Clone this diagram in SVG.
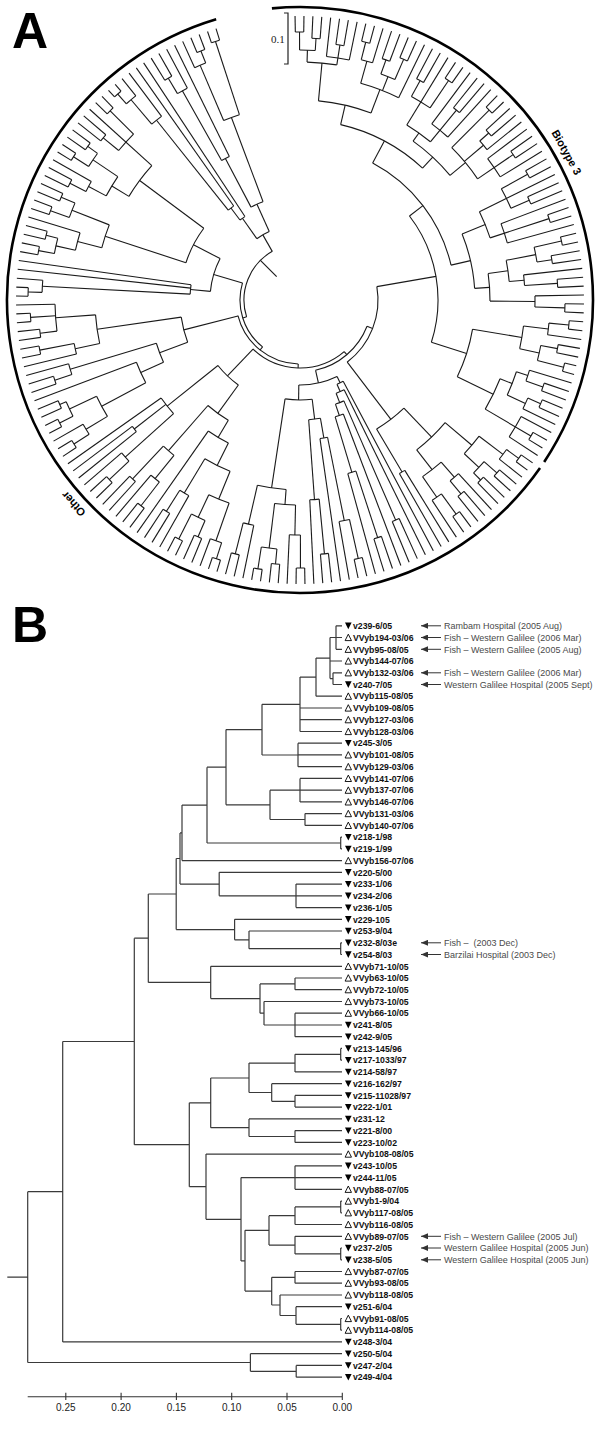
<svg xmlns="http://www.w3.org/2000/svg" xmlns:xlink="http://www.w3.org/1999/xlink" width="600" height="1433" viewBox="0 0 600 1433">
<style>
.ta path,.ta circle{fill:none;stroke:#1a1a1a;stroke-width:1.1}
.big{fill:none;stroke:#000;stroke-width:2.6}
.tb{fill:none;stroke:#3a3a3a;stroke-width:1.2}
.lbl{font-family:"Liberation Sans",Arial,sans-serif;font-size:8.7px;font-weight:bold;fill:#111}
.ann{font-family:"Liberation Sans",Arial,sans-serif;font-size:9px;fill:#4a4a4a}
.ax{font-family:"Liberation Sans",Arial,sans-serif;font-size:10px;fill:#222;text-anchor:middle}
.clade{font-family:"Liberation Sans",Arial,sans-serif;font-size:11px;font-weight:bold;fill:#000;text-anchor:middle}
.pl{font-family:"Liberation Sans",Arial,sans-serif;font-size:50px;font-weight:900;fill:#000}
.arr{stroke:#333;stroke-width:1;fill:none}
</style>
<defs>
<path id="dn" d="M-3.3-3.2H3.3L0 3.4Z" fill="#000"/>
<path id="up" d="M-3.2 3.1H3.2L0-3.3Z" fill="none" stroke="#000" stroke-width="0.9"/>
<marker id="ah" markerUnits="userSpaceOnUse" markerWidth="7" markerHeight="6" refX="7" refY="3" orient="auto"><path d="M0 0L7 3L0 6Z" fill="#333"/></marker>
</defs>
<rect width="600" height="1433" fill="#fff"/>
<text class="pl" x="12" y="48">A</text>
<text class="pl" x="12" y="642">B</text>
<g id="scalebarA">
<path d="M284 13H288V64H284" fill="none" stroke="#222" stroke-width="1.2"/>
<text x="271" y="43" font-family="Liberation Serif,serif" font-size="11" fill="#222">0.1</text>
</g>
<g id="cladeArcs" transform="translate(300,300)">
<circle class="big" r="293" transform="rotate(264.5)" stroke-dasharray="659.7 3000"/>
<circle class="big" r="293" transform="rotate(35)" stroke-dasharray="1116.3 3000"/>
<text class="clade" transform="rotate(61)" y="-301">Biotype 3</text>
<text class="clade" transform="rotate(228)" y="-301">Other</text>
</g>
<g id="treeA" class="ta" transform="translate(300,300)">
<g id="biotype3" transform="rotate(4)">
<circle r="138" transform="rotate(318.5)" stroke-dasharray="133.2 2000"/>
<circle r="155" transform="rotate(293.95)" stroke-dasharray="132.7 2000"/>
<circle r="175" transform="rotate(365.6)" stroke-dasharray="50.1 2000"/>
<circle r="180" transform="rotate(279.05)" stroke-dasharray="93.8 2000"/>
<circle r="175" transform="rotate(333.85)" stroke-dasharray="56 2000"/>
<circle r="200" transform="rotate(271.3)" stroke-dasharray="54.1 2000"/>
<circle r="195" transform="rotate(301.45)" stroke-dasharray="50.5 2000"/>
<circle r="238" transform="rotate(267.7)" stroke-dasharray="29.9 2000"/>
<circle r="225" transform="rotate(281.65)" stroke-dasharray="40.6 2000"/>
<circle r="205" transform="rotate(297.4)" stroke-dasharray="29 2000"/>
<circle r="215" transform="rotate(310.9)" stroke-dasharray="40.5 2000"/>
<circle r="250" transform="rotate(265.9)" stroke-dasharray="15.7 2000"/>
<circle r="268" transform="rotate(265)" stroke-dasharray="8.42 2000"/>
<circle r="262" transform="rotate(268.6)" stroke-dasharray="8.23 2000"/>
<circle r="245" transform="rotate(272.2)" stroke-dasharray="23.1 2000"/>
<circle r="258" transform="rotate(274)" stroke-dasharray="8.1 2000"/>
<circle r="248" transform="rotate(280.3)" stroke-dasharray="11.7 2000"/>
<circle r="266" transform="rotate(279.4)" stroke-dasharray="8.36 2000"/>
<circle r="240" transform="rotate(285.7)" stroke-dasharray="15.1 2000"/>
<circle r="255" transform="rotate(284.8)" stroke-dasharray="8 2000"/>
<circle r="262" transform="rotate(288.4)" stroke-dasharray="8.23 2000"/>
<circle r="232" transform="rotate(294.7)" stroke-dasharray="21.9 2000"/>
<circle r="250" transform="rotate(293.8)" stroke-dasharray="7.85 2000"/>
<circle r="265" transform="rotate(299.2)" stroke-dasharray="8.33 2000"/>
<circle r="220" transform="rotate(302.8)" stroke-dasharray="20.7 2000"/>
<circle r="246" transform="rotate(304.6)" stroke-dasharray="7.73 2000"/>
<circle r="268" transform="rotate(310)" stroke-dasharray="8.42 2000"/>
<circle r="240" transform="rotate(314.5)" stroke-dasharray="11.3 2000"/>
<circle r="252" transform="rotate(313.6)" stroke-dasharray="7.92 2000"/>
<circle r="235" transform="rotate(319)" stroke-dasharray="22.1 2000"/>
<circle r="258" transform="rotate(320.8)" stroke-dasharray="8.1 2000"/>
<circle r="200" transform="rotate(329.8)" stroke-dasharray="28.3 2000"/>
<circle r="230" transform="rotate(327.1)" stroke-dasharray="21.7 2000"/>
<circle r="260" transform="rotate(326.2)" stroke-dasharray="8.17 2000"/>
<circle r="250" transform="rotate(331.6)" stroke-dasharray="7.85 2000"/>
<circle r="215" transform="rotate(335.2)" stroke-dasharray="20.3 2000"/>
<circle r="262" transform="rotate(337)" stroke-dasharray="8.23 2000"/>
<circle r="190" transform="rotate(348)" stroke-dasharray="27.7 2000"/>
<circle r="210" transform="rotate(345.1)" stroke-dasharray="21.4 2000"/>
<circle r="240" transform="rotate(343.3)" stroke-dasharray="15.1 2000"/>
<circle r="268" transform="rotate(342.4)" stroke-dasharray="8.42 2000"/>
<circle r="255" transform="rotate(346)" stroke-dasharray="8 2000"/>
<circle r="225" transform="rotate(349.6)" stroke-dasharray="10.6 2000"/>
<circle r="258" transform="rotate(351.4)" stroke-dasharray="8.1 2000"/>
<circle r="235" transform="rotate(355)" stroke-dasharray="11.1 2000"/>
<circle r="265" transform="rotate(356.8)" stroke-dasharray="8.33 2000"/>
<circle r="225" transform="rotate(362.65)" stroke-dasharray="23 2000"/>
<circle r="250" transform="rotate(361.3)" stroke-dasharray="11.8 2000"/>
<circle r="270" transform="rotate(360.4)" stroke-dasharray="8.48 2000"/>
<circle r="245" transform="rotate(366.7)" stroke-dasharray="15.4 2000"/>
<circle r="262" transform="rotate(365.8)" stroke-dasharray="8.23 2000"/>
<circle r="272" transform="rotate(369.4)" stroke-dasharray="8.55 2000"/>
<circle r="215" transform="rotate(377.5)" stroke-dasharray="33.8 2000"/>
<circle r="228" transform="rotate(374.35)" stroke-dasharray="25.1 2000"/>
<circle r="240" transform="rotate(373)" stroke-dasharray="11.3 2000"/>
<circle r="258" transform="rotate(374.8)" stroke-dasharray="8.1 2000"/>
<circle r="248" transform="rotate(379.3)" stroke-dasharray="11.7 2000"/>
<circle r="262" transform="rotate(378.4)" stroke-dasharray="8.23 2000"/>
<circle r="250" transform="rotate(383.8)" stroke-dasharray="23.6 2000"/>
<circle r="268" transform="rotate(385.6)" stroke-dasharray="8.42 2000"/>
<path transform="rotate(436.15)" d="M0-78V-138"/>
<path transform="rotate(408.5)" d="M0-138V-155"/>
<path transform="rotate(463.8)" d="M0-138V-175"/>
<path transform="rotate(383.95)" d="M0-155V-180"/>
<path transform="rotate(433)" d="M0-155V-175"/>
<path transform="rotate(369.05)" d="M0-180V-200"/>
<path transform="rotate(398.9)" d="M0-180V-195"/>
<path transform="rotate(361.3)" d="M0-200V-238"/>
<path transform="rotate(376.8)" d="M0-200V-225"/>
<path transform="rotate(391.45)" d="M0-195V-205"/>
<path transform="rotate(406.3)" d="M0-195V-215"/>
<path transform="rotate(357.7)" d="M0-238V-250"/>
<path transform="rotate(355.9)" d="M0-250V-268"/>
<path transform="rotate(359.5)" d="M0-250V-262"/>
<path transform="rotate(364.9)" d="M0-238V-258"/>
<path transform="rotate(371.65)" d="M0-225V-248"/>
<path transform="rotate(370.3)" d="M0-248V-266"/>
<path transform="rotate(377.5)" d="M0-225V-240"/>
<path transform="rotate(375.7)" d="M0-240V-255"/>
<path transform="rotate(379.3)" d="M0-240V-262"/>
<path transform="rotate(387.4)" d="M0-205V-284"/>
<path transform="rotate(384.7)" d="M0-232V-250"/>
<path transform="rotate(390.1)" d="M0-232V-265"/>
<path transform="rotate(395.5)" d="M0-205V-246"/>
<path transform="rotate(400.9)" d="M0-215V-268"/>
<path transform="rotate(405.85)" d="M0-215V-240"/>
<path transform="rotate(404.5)" d="M0-240V-252"/>
<path transform="rotate(411.7)" d="M0-215V-258"/>
<path transform="rotate(423.85)" d="M0-175V-200"/>
<path transform="rotate(419.8)" d="M0-200V-284"/>
<path transform="rotate(417.1)" d="M0-230V-260"/>
<path transform="rotate(422.5)" d="M0-230V-250"/>
<path transform="rotate(427.9)" d="M0-200V-262"/>
<path transform="rotate(442.2)" d="M0-175V-190"/>
<path transform="rotate(438)" d="M0-190V-210"/>
<path transform="rotate(435.1)" d="M0-210V-240"/>
<path transform="rotate(433.3)" d="M0-240V-268"/>
<path transform="rotate(436.9)" d="M0-240V-255"/>
<path transform="rotate(440.95)" d="M0-210V-225"/>
<path transform="rotate(442.3)" d="M0-225V-258"/>
<path transform="rotate(446.35)" d="M0-190V-235"/>
<path transform="rotate(447.7)" d="M0-235V-265"/>
<path transform="rotate(455.6)" d="M0-175V-225"/>
<path transform="rotate(452.65)" d="M0-225V-250"/>
<path transform="rotate(451.3)" d="M0-250V-270"/>
<path transform="rotate(458.5)" d="M0-225V-245"/>
<path transform="rotate(456.7)" d="M0-245V-262"/>
<path transform="rotate(460.3)" d="M0-245V-272"/>
<path transform="rotate(472)" d="M0-175V-215"/>
<path transform="rotate(467.5)" d="M0-215V-228"/>
<path transform="rotate(464.35)" d="M0-228V-240"/>
<path transform="rotate(465.7)" d="M0-240V-258"/>
<path transform="rotate(470.65)" d="M0-228V-248"/>
<path transform="rotate(469.3)" d="M0-248V-262"/>
<path transform="rotate(476.5)" d="M0-215V-268"/>
<path transform="rotate(355)" d="M0-268V-284"/>
<path transform="rotate(356.8)" d="M0-268V-284"/>
<path transform="rotate(358.6)" d="M0-262V-284"/>
<path transform="rotate(360.4)" d="M0-262V-284"/>
<path transform="rotate(362.2)" d="M0-245V-284"/>
<path transform="rotate(364)" d="M0-258V-284"/>
<path transform="rotate(365.8)" d="M0-258V-284"/>
<path transform="rotate(367.6)" d="M0-245V-284"/>
<path transform="rotate(369.4)" d="M0-266V-284"/>
<path transform="rotate(371.2)" d="M0-266V-284"/>
<path transform="rotate(373)" d="M0-248V-284"/>
<path transform="rotate(374.8)" d="M0-255V-284"/>
<path transform="rotate(376.6)" d="M0-255V-284"/>
<path transform="rotate(378.4)" d="M0-262V-284"/>
<path transform="rotate(380.2)" d="M0-262V-284"/>
<path transform="rotate(382)" d="M0-225V-284"/>
<path transform="rotate(383.8)" d="M0-250V-284"/>
<path transform="rotate(385.6)" d="M0-250V-284"/>
<path transform="rotate(389.2)" d="M0-265V-284"/>
<path transform="rotate(391)" d="M0-265V-284"/>
<path transform="rotate(392.8)" d="M0-220V-284"/>
<path transform="rotate(394.6)" d="M0-246V-284"/>
<path transform="rotate(396.4)" d="M0-246V-284"/>
<path transform="rotate(398.2)" d="M0-220V-284"/>
<path transform="rotate(400)" d="M0-268V-284"/>
<path transform="rotate(401.8)" d="M0-268V-284"/>
<path transform="rotate(403.6)" d="M0-252V-284"/>
<path transform="rotate(405.4)" d="M0-252V-284"/>
<path transform="rotate(407.2)" d="M0-240V-284"/>
<path transform="rotate(409)" d="M0-235V-284"/>
<path transform="rotate(410.8)" d="M0-258V-284"/>
<path transform="rotate(412.6)" d="M0-258V-284"/>
<path transform="rotate(414.4)" d="M0-235V-284"/>
<path transform="rotate(416.2)" d="M0-260V-284"/>
<path transform="rotate(418)" d="M0-260V-284"/>
<path transform="rotate(421.6)" d="M0-250V-284"/>
<path transform="rotate(423.4)" d="M0-250V-284"/>
<path transform="rotate(425.2)" d="M0-215V-284"/>
<path transform="rotate(427)" d="M0-262V-284"/>
<path transform="rotate(428.8)" d="M0-262V-284"/>
<path transform="rotate(430.6)" d="M0-215V-284"/>
<path transform="rotate(432.4)" d="M0-268V-284"/>
<path transform="rotate(434.2)" d="M0-268V-284"/>
<path transform="rotate(436)" d="M0-255V-284"/>
<path transform="rotate(437.8)" d="M0-255V-284"/>
<path transform="rotate(439.6)" d="M0-225V-284"/>
<path transform="rotate(441.4)" d="M0-258V-284"/>
<path transform="rotate(443.2)" d="M0-258V-284"/>
<path transform="rotate(445)" d="M0-235V-284"/>
<path transform="rotate(446.8)" d="M0-265V-284"/>
<path transform="rotate(448.6)" d="M0-265V-284"/>
<path transform="rotate(450.4)" d="M0-270V-284"/>
<path transform="rotate(452.2)" d="M0-270V-284"/>
<path transform="rotate(454)" d="M0-250V-284"/>
<path transform="rotate(455.8)" d="M0-262V-284"/>
<path transform="rotate(457.6)" d="M0-262V-284"/>
<path transform="rotate(459.4)" d="M0-272V-284"/>
<path transform="rotate(461.2)" d="M0-272V-284"/>
<path transform="rotate(463)" d="M0-240V-284"/>
<path transform="rotate(464.8)" d="M0-258V-284"/>
<path transform="rotate(466.6)" d="M0-258V-284"/>
<path transform="rotate(468.4)" d="M0-262V-284"/>
<path transform="rotate(470.2)" d="M0-262V-284"/>
<path transform="rotate(472)" d="M0-248V-284"/>
<path transform="rotate(473.8)" d="M0-250V-284"/>
<path transform="rotate(475.6)" d="M0-268V-284"/>
<path transform="rotate(477.4)" d="M0-268V-284"/>
<path transform="rotate(479.2)" d="M0-250V-284"/>
</g>
<g id="other" transform="rotate(2)">
<circle r="150" transform="rotate(44.15)" stroke-dasharray="34.4 2000"/>
<circle r="190" transform="rotate(38.2)" stroke-dasharray="39.5 2000"/>
<circle r="225" transform="rotate(35.25)" stroke-dasharray="23 2000"/>
<circle r="255" transform="rotate(33.9)" stroke-dasharray="12 2000"/>
<circle r="270" transform="rotate(33)" stroke-dasharray="8.48 2000"/>
<circle r="245" transform="rotate(39.3)" stroke-dasharray="15.4 2000"/>
<circle r="262" transform="rotate(38.4)" stroke-dasharray="8.23 2000"/>
<circle r="255" transform="rotate(42)" stroke-dasharray="8 2000"/>
<circle r="215" transform="rotate(46.95)" stroke-dasharray="23.6 2000"/>
<circle r="235" transform="rotate(45.6)" stroke-dasharray="11.1 2000"/>
<circle r="252" transform="rotate(47.4)" stroke-dasharray="7.92 2000"/>
<circle r="240" transform="rotate(51.9)" stroke-dasharray="11.3 2000"/>
<circle r="265" transform="rotate(51)" stroke-dasharray="8.33 2000"/>
<circle r="200" transform="rotate(56.4)" stroke-dasharray="6.28 2000"/>
<circle r="85" transform="rotate(62.15)" stroke-dasharray="39.5 2000"/>
<circle r="92" transform="rotate(60)" stroke-dasharray="6.9 2000"/>
<circle r="100" transform="rotate(61.8)" stroke-dasharray="8.8 2000"/>
<circle r="110" transform="rotate(64.5)" stroke-dasharray="9 2000"/>
<circle r="240" transform="rotate(63.6)" stroke-dasharray="7.54 2000"/>
<circle r="122" transform="rotate(67.2)" stroke-dasharray="8.6 2000"/>
<circle r="180" transform="rotate(69.9)" stroke-dasharray="8.5 2000"/>
<circle r="250" transform="rotate(69)" stroke-dasharray="7.85 2000"/>
<circle r="100" transform="rotate(81)" stroke-dasharray="27.2 2000"/>
<circle r="120" transform="rotate(78.2)" stroke-dasharray="11.8 2000"/>
<circle r="140" transform="rotate(76.65)" stroke-dasharray="7.7 2000"/>
<circle r="225" transform="rotate(75.3)" stroke-dasharray="10.6 2000"/>
<circle r="265" transform="rotate(74.4)" stroke-dasharray="8.33 2000"/>
<circle r="200" transform="rotate(82.5)" stroke-dasharray="9.4 2000"/>
<circle r="255" transform="rotate(81.6)" stroke-dasharray="8 2000"/>
<circle r="190" transform="rotate(92.2)" stroke-dasharray="29 2000"/>
<circle r="205" transform="rotate(89.25)" stroke-dasharray="20.9 2000"/>
<circle r="235" transform="rotate(87.9)" stroke-dasharray="11.1 2000"/>
<circle r="268" transform="rotate(87)" stroke-dasharray="8.42 2000"/>
<circle r="250" transform="rotate(93.3)" stroke-dasharray="15.7 2000"/>
<circle r="265" transform="rotate(92.4)" stroke-dasharray="8.33 2000"/>
<circle r="272" transform="rotate(96)" stroke-dasharray="8.55 2000"/>
<circle r="230" transform="rotate(99.6)" stroke-dasharray="10.8 2000"/>
<circle r="262" transform="rotate(101.4)" stroke-dasharray="8.23 2000"/>
<circle r="105" transform="rotate(123.95)" stroke-dasharray="28.3 2000"/>
<circle r="140" transform="rotate(118.8)" stroke-dasharray="25.2 2000"/>
<circle r="160" transform="rotate(114.6)" stroke-dasharray="23.5 2000"/>
<circle r="185" transform="rotate(110.2)" stroke-dasharray="28.3 2000"/>
<circle r="215" transform="rotate(107.25)" stroke-dasharray="22 2000"/>
<circle r="255" transform="rotate(105.9)" stroke-dasharray="12 2000"/>
<circle r="272" transform="rotate(105)" stroke-dasharray="8.55 2000"/>
<circle r="240" transform="rotate(111.3)" stroke-dasharray="15.1 2000"/>
<circle r="258" transform="rotate(110.4)" stroke-dasharray="8.1 2000"/>
<circle r="268" transform="rotate(114)" stroke-dasharray="8.42 2000"/>
<circle r="225" transform="rotate(117.6)" stroke-dasharray="10.6 2000"/>
<circle r="250" transform="rotate(119.4)" stroke-dasharray="7.85 2000"/>
<circle r="200" transform="rotate(127.05)" stroke-dasharray="14.1 2000"/>
<circle r="230" transform="rotate(125.7)" stroke-dasharray="10.8 2000"/>
<circle r="260" transform="rotate(124.8)" stroke-dasharray="8.17 2000"/>
<circle r="245" transform="rotate(130.2)" stroke-dasharray="7.7 2000"/>
<circle r="170" transform="rotate(136.05)" stroke-dasharray="20 2000"/>
<circle r="235" transform="rotate(134.7)" stroke-dasharray="11.1 2000"/>
<circle r="262" transform="rotate(133.8)" stroke-dasharray="8.23 2000"/>
<circle r="210" transform="rotate(139.2)" stroke-dasharray="6.6 2000"/>
<circle r="120" transform="rotate(157.4)" stroke-dasharray="26 2000"/>
<circle r="150" transform="rotate(153.5)" stroke-dasharray="20.3 2000"/>
<circle r="175" transform="rotate(149.8)" stroke-dasharray="22.6 2000"/>
<circle r="225" transform="rotate(146.85)" stroke-dasharray="23 2000"/>
<circle r="250" transform="rotate(145.5)" stroke-dasharray="11.8 2000"/>
<circle r="268" transform="rotate(144.6)" stroke-dasharray="8.42 2000"/>
<circle r="255" transform="rotate(150.9)" stroke-dasharray="16 2000"/>
<circle r="270" transform="rotate(150)" stroke-dasharray="8.48 2000"/>
<circle r="262" transform="rotate(153.6)" stroke-dasharray="8.23 2000"/>
<circle r="240" transform="rotate(159.9)" stroke-dasharray="11.3 2000"/>
<circle r="258" transform="rotate(159)" stroke-dasharray="8.1 2000"/>
<circle r="205" transform="rotate(165.75)" stroke-dasharray="29 2000"/>
<circle r="230" transform="rotate(164.4)" stroke-dasharray="10.8 2000"/>
<circle r="265" transform="rotate(166.2)" stroke-dasharray="8.33 2000"/>
<circle r="245" transform="rotate(170.7)" stroke-dasharray="26.9 2000"/>
<circle r="262" transform="rotate(169.8)" stroke-dasharray="8.23 2000"/>
<circle r="270" transform="rotate(173.4)" stroke-dasharray="8.48 2000"/>
<circle r="90" transform="rotate(183.5)" stroke-dasharray="34.4 2000"/>
<circle r="110" transform="rotate(181.05)" stroke-dasharray="9.5 2000"/>
<circle r="258" transform="rotate(179.7)" stroke-dasharray="12.2 2000"/>
<circle r="272" transform="rotate(178.8)" stroke-dasharray="8.55 2000"/>
<circle r="120" transform="rotate(196.1)" stroke-dasharray="39 2000"/>
<circle r="205" transform="rotate(192.75)" stroke-dasharray="24.2 2000"/>
<circle r="230" transform="rotate(190.5)" stroke-dasharray="18.1 2000"/>
<circle r="250" transform="rotate(188.7)" stroke-dasharray="15.7 2000"/>
<circle r="266" transform="rotate(187.8)" stroke-dasharray="8.36 2000"/>
<circle r="262" transform="rotate(191.4)" stroke-dasharray="8.23 2000"/>
<circle r="245" transform="rotate(197.7)" stroke-dasharray="15.4 2000"/>
<circle r="265" transform="rotate(196.8)" stroke-dasharray="8.33 2000"/>
<circle r="260" transform="rotate(200.4)" stroke-dasharray="8.17 2000"/>
<circle r="200" transform="rotate(209.2)" stroke-dasharray="38.4 2000"/>
<circle r="220" transform="rotate(206.25)" stroke-dasharray="22.5 2000"/>
<circle r="240" transform="rotate(204.9)" stroke-dasharray="11.3 2000"/>
<circle r="258" transform="rotate(204)" stroke-dasharray="8.1 2000"/>
<circle r="250" transform="rotate(210.3)" stroke-dasharray="15.7 2000"/>
<circle r="268" transform="rotate(209.4)" stroke-dasharray="8.42 2000"/>
<circle r="262" transform="rotate(213)" stroke-dasharray="8.23 2000"/>
<circle r="235" transform="rotate(217.5)" stroke-dasharray="22.1 2000"/>
<circle r="255" transform="rotate(216.6)" stroke-dasharray="8 2000"/>
<circle r="268" transform="rotate(222)" stroke-dasharray="8.42 2000"/>
<circle r="75" transform="rotate(232.85)" stroke-dasharray="14.3 2000"/>
<circle r="100" transform="rotate(231.1)" stroke-dasharray="6.1 2000"/>
<circle r="115" transform="rotate(229.4)" stroke-dasharray="6.8 2000"/>
<circle r="230" transform="rotate(227.85)" stroke-dasharray="12.6 2000"/>
<circle r="262" transform="rotate(226.5)" stroke-dasharray="12.3 2000"/>
<circle r="275" transform="rotate(225.6)" stroke-dasharray="8.64 2000"/>
<circle r="105" transform="rotate(240.2)" stroke-dasharray="13.2 2000"/>
<circle r="160" transform="rotate(238.65)" stroke-dasharray="8.8 2000"/>
<circle r="240" transform="rotate(237.3)" stroke-dasharray="11.3 2000"/>
<circle r="258" transform="rotate(236.4)" stroke-dasharray="8.1 2000"/>
<circle r="195" transform="rotate(244.95)" stroke-dasharray="16.8 2000"/>
<circle r="255" transform="rotate(243.6)" stroke-dasharray="12 2000"/>
<circle r="268" transform="rotate(245.4)" stroke-dasharray="8.42 2000"/>
<circle r="272" transform="rotate(249)" stroke-dasharray="8.55 2000"/>
<path transform="rotate(140.7)" d="M0-78V-150"/>
<path transform="rotate(134.15)" d="M0-150V-190"/>
<path transform="rotate(128.2)" d="M0-190V-225"/>
<path transform="rotate(125.25)" d="M0-225V-255"/>
<path transform="rotate(123.9)" d="M0-255V-270"/>
<path transform="rotate(131.1)" d="M0-225V-245"/>
<path transform="rotate(129.3)" d="M0-245V-262"/>
<path transform="rotate(132.9)" d="M0-245V-255"/>
<path transform="rotate(140.1)" d="M0-190V-215"/>
<path transform="rotate(136.95)" d="M0-215V-235"/>
<path transform="rotate(138.3)" d="M0-235V-252"/>
<path transform="rotate(143.25)" d="M0-215V-240"/>
<path transform="rotate(141.9)" d="M0-240V-265"/>
<path transform="rotate(147.3)" d="M0-150V-200"/>
<path transform="rotate(165.5)" d="M0-72V-85"/>
<path transform="rotate(152.15)" d="M0-85V-92"/>
<path transform="rotate(154.3)" d="M0-92V-100"/>
<path transform="rotate(156.85)" d="M0-100V-110"/>
<path transform="rotate(154.5)" d="M0-110V-240"/>
<path transform="rotate(159.2)" d="M0-110V-122"/>
<path transform="rotate(161.25)" d="M0-122V-180"/>
<path transform="rotate(159.9)" d="M0-180V-250"/>
<path transform="rotate(178.8)" d="M0-85V-100"/>
<path transform="rotate(171)" d="M0-100V-120"/>
<path transform="rotate(168.2)" d="M0-120V-140"/>
<path transform="rotate(166.65)" d="M0-140V-225"/>
<path transform="rotate(165.3)" d="M0-225V-265"/>
<path transform="rotate(173.85)" d="M0-120V-200"/>
<path transform="rotate(172.5)" d="M0-200V-255"/>
<path transform="rotate(186.6)" d="M0-100V-190"/>
<path transform="rotate(182.2)" d="M0-190V-205"/>
<path transform="rotate(179.25)" d="M0-205V-235"/>
<path transform="rotate(177.9)" d="M0-235V-268"/>
<path transform="rotate(185.1)" d="M0-205V-250"/>
<path transform="rotate(183.3)" d="M0-250V-265"/>
<path transform="rotate(186.9)" d="M0-250V-272"/>
<path transform="rotate(190.95)" d="M0-190V-230"/>
<path transform="rotate(192.3)" d="M0-230V-262"/>
<path transform="rotate(221.7)" d="M0-68V-105"/>
<path transform="rotate(213.95)" d="M0-105V-140"/>
<path transform="rotate(208.8)" d="M0-140V-160"/>
<path transform="rotate(204.6)" d="M0-160V-185"/>
<path transform="rotate(200.2)" d="M0-185V-215"/>
<path transform="rotate(197.25)" d="M0-215V-255"/>
<path transform="rotate(195.9)" d="M0-255V-272"/>
<path transform="rotate(203.1)" d="M0-215V-240"/>
<path transform="rotate(201.3)" d="M0-240V-258"/>
<path transform="rotate(204.9)" d="M0-240V-268"/>
<path transform="rotate(208.95)" d="M0-185V-225"/>
<path transform="rotate(210.3)" d="M0-225V-250"/>
<path transform="rotate(219.1)" d="M0-140V-200"/>
<path transform="rotate(217.05)" d="M0-200V-230"/>
<path transform="rotate(215.7)" d="M0-230V-260"/>
<path transform="rotate(221.1)" d="M0-200V-245"/>
<path transform="rotate(229.4)" d="M0-105V-170"/>
<path transform="rotate(226.05)" d="M0-170V-235"/>
<path transform="rotate(224.7)" d="M0-235V-262"/>
<path transform="rotate(230.1)" d="M0-170V-210"/>
<path transform="rotate(253.6)" d="M0-64V-120"/>
<path transform="rotate(247.4)" d="M0-120V-150"/>
<path transform="rotate(243.5)" d="M0-150V-175"/>
<path transform="rotate(239.8)" d="M0-175V-225"/>
<path transform="rotate(236.85)" d="M0-225V-250"/>
<path transform="rotate(235.5)" d="M0-250V-268"/>
<path transform="rotate(242.7)" d="M0-225V-255"/>
<path transform="rotate(240.9)" d="M0-255V-270"/>
<path transform="rotate(244.5)" d="M0-255V-262"/>
<path transform="rotate(251.25)" d="M0-150V-240"/>
<path transform="rotate(249.9)" d="M0-240V-258"/>
<path transform="rotate(259.8)" d="M0-120V-205"/>
<path transform="rotate(255.75)" d="M0-205V-230"/>
<path transform="rotate(257.1)" d="M0-230V-265"/>
<path transform="rotate(263.85)" d="M0-205V-245"/>
<path transform="rotate(260.7)" d="M0-245V-262"/>
<path transform="rotate(264.3)" d="M0-245V-270"/>
<path transform="rotate(284.45)" d="M0-60V-90"/>
<path transform="rotate(273.5)" d="M0-90V-110"/>
<path transform="rotate(271.05)" d="M0-110V-258"/>
<path transform="rotate(269.7)" d="M0-258V-272"/>
<path transform="rotate(295.4)" d="M0-90V-120"/>
<path transform="rotate(286.1)" d="M0-120V-205"/>
<path transform="rotate(282.75)" d="M0-205V-230"/>
<path transform="rotate(280.5)" d="M0-230V-250"/>
<path transform="rotate(278.7)" d="M0-250V-266"/>
<path transform="rotate(282.3)" d="M0-250V-262"/>
<path transform="rotate(289.5)" d="M0-205V-245"/>
<path transform="rotate(287.7)" d="M0-245V-265"/>
<path transform="rotate(291.3)" d="M0-245V-260"/>
<path transform="rotate(304.7)" d="M0-120V-200"/>
<path transform="rotate(299.2)" d="M0-200V-220"/>
<path transform="rotate(296.25)" d="M0-220V-240"/>
<path transform="rotate(294.9)" d="M0-240V-258"/>
<path transform="rotate(302.1)" d="M0-220V-250"/>
<path transform="rotate(300.3)" d="M0-250V-268"/>
<path transform="rotate(303.9)" d="M0-250V-262"/>
<path transform="rotate(310.2)" d="M0-200V-284"/>
<path transform="rotate(307.5)" d="M0-235V-255"/>
<path transform="rotate(312.9)" d="M0-235V-268"/>
<path transform="rotate(328.3)" d="M0-56V-75"/>
<path transform="rotate(322.85)" d="M0-75V-100"/>
<path transform="rotate(321.1)" d="M0-100V-115"/>
<path transform="rotate(319.4)" d="M0-115V-230"/>
<path transform="rotate(317.85)" d="M0-230V-262"/>
<path transform="rotate(316.5)" d="M0-262V-275"/>
<path transform="rotate(333.8)" d="M0-75V-105"/>
<path transform="rotate(330.2)" d="M0-105V-160"/>
<path transform="rotate(328.65)" d="M0-160V-240"/>
<path transform="rotate(327.3)" d="M0-240V-258"/>
<path transform="rotate(337.4)" d="M0-105V-195"/>
<path transform="rotate(334.95)" d="M0-195V-255"/>
<path transform="rotate(336.3)" d="M0-255V-268"/>
<path transform="rotate(339.9)" d="M0-195V-272"/>
<path transform="rotate(123)" d="M0-270V-284"/>
<path transform="rotate(124.8)" d="M0-270V-284"/>
<path transform="rotate(126.6)" d="M0-255V-284"/>
<path transform="rotate(128.4)" d="M0-262V-284"/>
<path transform="rotate(130.2)" d="M0-262V-284"/>
<path transform="rotate(132)" d="M0-255V-284"/>
<path transform="rotate(133.8)" d="M0-255V-284"/>
<path transform="rotate(135.6)" d="M0-235V-284"/>
<path transform="rotate(137.4)" d="M0-252V-284"/>
<path transform="rotate(139.2)" d="M0-252V-284"/>
<path transform="rotate(141)" d="M0-265V-284"/>
<path transform="rotate(142.8)" d="M0-265V-284"/>
<path transform="rotate(144.6)" d="M0-240V-284"/>
<path transform="rotate(146.4)" d="M0-200V-284"/>
<path transform="rotate(148.2)" d="M0-200V-284"/>
<path transform="rotate(150)" d="M0-92V-284"/>
<path transform="rotate(151.8)" d="M0-100V-284"/>
<path transform="rotate(153.6)" d="M0-240V-284"/>
<path transform="rotate(155.4)" d="M0-240V-284"/>
<path transform="rotate(157.2)" d="M0-122V-284"/>
<path transform="rotate(159)" d="M0-250V-284"/>
<path transform="rotate(160.8)" d="M0-250V-284"/>
<path transform="rotate(162.6)" d="M0-180V-284"/>
<path transform="rotate(164.4)" d="M0-265V-284"/>
<path transform="rotate(166.2)" d="M0-265V-284"/>
<path transform="rotate(168)" d="M0-225V-284"/>
<path transform="rotate(169.8)" d="M0-140V-284"/>
<path transform="rotate(171.6)" d="M0-255V-284"/>
<path transform="rotate(173.4)" d="M0-255V-284"/>
<path transform="rotate(175.2)" d="M0-200V-284"/>
<path transform="rotate(177)" d="M0-268V-284"/>
<path transform="rotate(178.8)" d="M0-268V-284"/>
<path transform="rotate(180.6)" d="M0-235V-284"/>
<path transform="rotate(182.4)" d="M0-265V-284"/>
<path transform="rotate(184.2)" d="M0-265V-284"/>
<path transform="rotate(186)" d="M0-272V-284"/>
<path transform="rotate(187.8)" d="M0-272V-284"/>
<path transform="rotate(189.6)" d="M0-230V-284"/>
<path transform="rotate(191.4)" d="M0-262V-284"/>
<path transform="rotate(193.2)" d="M0-262V-284"/>
<path transform="rotate(195)" d="M0-272V-284"/>
<path transform="rotate(196.8)" d="M0-272V-284"/>
<path transform="rotate(198.6)" d="M0-255V-284"/>
<path transform="rotate(200.4)" d="M0-258V-284"/>
<path transform="rotate(202.2)" d="M0-258V-284"/>
<path transform="rotate(204)" d="M0-268V-284"/>
<path transform="rotate(205.8)" d="M0-268V-284"/>
<path transform="rotate(207.6)" d="M0-225V-284"/>
<path transform="rotate(209.4)" d="M0-250V-284"/>
<path transform="rotate(211.2)" d="M0-250V-284"/>
<path transform="rotate(213)" d="M0-160V-284"/>
<path transform="rotate(214.8)" d="M0-260V-284"/>
<path transform="rotate(216.6)" d="M0-260V-284"/>
<path transform="rotate(218.4)" d="M0-230V-284"/>
<path transform="rotate(220.2)" d="M0-245V-284"/>
<path transform="rotate(222)" d="M0-245V-284"/>
<path transform="rotate(223.8)" d="M0-262V-284"/>
<path transform="rotate(225.6)" d="M0-262V-284"/>
<path transform="rotate(227.4)" d="M0-235V-284"/>
<path transform="rotate(229.2)" d="M0-210V-284"/>
<path transform="rotate(231)" d="M0-210V-284"/>
<path transform="rotate(232.8)" d="M0-170V-284"/>
<path transform="rotate(234.6)" d="M0-268V-284"/>
<path transform="rotate(236.4)" d="M0-268V-284"/>
<path transform="rotate(238.2)" d="M0-250V-284"/>
<path transform="rotate(240)" d="M0-270V-284"/>
<path transform="rotate(241.8)" d="M0-270V-284"/>
<path transform="rotate(243.6)" d="M0-262V-284"/>
<path transform="rotate(245.4)" d="M0-262V-284"/>
<path transform="rotate(247.2)" d="M0-175V-284"/>
<path transform="rotate(249)" d="M0-258V-284"/>
<path transform="rotate(250.8)" d="M0-258V-284"/>
<path transform="rotate(252.6)" d="M0-240V-284"/>
<path transform="rotate(254.4)" d="M0-230V-284"/>
<path transform="rotate(256.2)" d="M0-265V-284"/>
<path transform="rotate(258)" d="M0-265V-284"/>
<path transform="rotate(259.8)" d="M0-262V-284"/>
<path transform="rotate(261.6)" d="M0-262V-284"/>
<path transform="rotate(263.4)" d="M0-270V-284"/>
<path transform="rotate(265.2)" d="M0-270V-284"/>
<path transform="rotate(267)" d="M0-245V-284"/>
<path transform="rotate(268.8)" d="M0-272V-284"/>
<path transform="rotate(270.6)" d="M0-272V-284"/>
<path transform="rotate(272.4)" d="M0-258V-284"/>
<path transform="rotate(274.2)" d="M0-110V-284"/>
<path transform="rotate(276)" d="M0-110V-284"/>
<path transform="rotate(277.8)" d="M0-266V-284"/>
<path transform="rotate(279.6)" d="M0-266V-284"/>
<path transform="rotate(281.4)" d="M0-262V-284"/>
<path transform="rotate(283.2)" d="M0-262V-284"/>
<path transform="rotate(285)" d="M0-230V-284"/>
<path transform="rotate(286.8)" d="M0-265V-284"/>
<path transform="rotate(288.6)" d="M0-265V-284"/>
<path transform="rotate(290.4)" d="M0-260V-284"/>
<path transform="rotate(292.2)" d="M0-260V-284"/>
<path transform="rotate(294)" d="M0-258V-284"/>
<path transform="rotate(295.8)" d="M0-258V-284"/>
<path transform="rotate(297.6)" d="M0-240V-284"/>
<path transform="rotate(299.4)" d="M0-268V-284"/>
<path transform="rotate(301.2)" d="M0-268V-284"/>
<path transform="rotate(303)" d="M0-262V-284"/>
<path transform="rotate(304.8)" d="M0-262V-284"/>
<path transform="rotate(306.6)" d="M0-255V-284"/>
<path transform="rotate(308.4)" d="M0-255V-284"/>
<path transform="rotate(312)" d="M0-268V-284"/>
<path transform="rotate(313.8)" d="M0-268V-284"/>
<path transform="rotate(315.6)" d="M0-275V-284"/>
<path transform="rotate(317.4)" d="M0-275V-284"/>
<path transform="rotate(319.2)" d="M0-262V-284"/>
<path transform="rotate(321)" d="M0-230V-284"/>
<path transform="rotate(322.8)" d="M0-115V-284"/>
<path transform="rotate(324.6)" d="M0-100V-284"/>
<path transform="rotate(326.4)" d="M0-258V-284"/>
<path transform="rotate(328.2)" d="M0-258V-284"/>
<path transform="rotate(330)" d="M0-240V-284"/>
<path transform="rotate(331.8)" d="M0-160V-284"/>
<path transform="rotate(333.6)" d="M0-255V-284"/>
<path transform="rotate(335.4)" d="M0-268V-284"/>
<path transform="rotate(337.2)" d="M0-268V-284"/>
<path transform="rotate(339)" d="M0-272V-284"/>
<path transform="rotate(340.8)" d="M0-272V-284"/>
</g>
<g id="rootLadder">
<circle r="78" transform="rotate(-9.85)" stroke-dasharray="85.2 2000"/>
<circle r="72" transform="rotate(21.4)" stroke-dasharray="70.5 2000"/>
<circle r="68" transform="rotate(49.45)" stroke-dasharray="100 2000"/>
<circle r="64" transform="rotate(91.6)" stroke-dasharray="82.7 2000"/>
<circle r="60" transform="rotate(128.6)" stroke-dasharray="71 2000"/>
<circle r="56" transform="rotate(162.5)" stroke-dasharray="76 2000"/>
<path transform="rotate(111.4)" d="M0-72V-78"/>
<path transform="rotate(139.45)" d="M0-68V-72"/>
<path transform="rotate(181.6)" d="M0-64V-68"/>
<path transform="rotate(218.6)" d="M0-60V-64"/>
<path transform="rotate(252.5)" d="M0-56V-60"/>
<path transform="rotate(315)" d="M0-33V-56"/>
</g>
</g>
<g id="treeB-connectors" class="tb">
<path d="M336 625.8H342M336 637.5H342M336 649.3H342M336 625.8V649.3M330 637.5H336M333 672.8H342M333 684.5H342M333 672.8V684.5M330 678.6H333M330 661H342M330 637.5V678.6M316 658.1H330M316 696.2H342M316 658.1V696.2M300 677.1H316"/>
<path d="M300 708H342M300 719.7H342M300 731.5H342M300 677.1V731.5M262 704.3H300M298 743.2H342M298 754.9H342M298 766.7H342M298 743.2V766.7M262 755H298M262 704.3V755M226 729.6H262"/>
<path d="M300 778.4H342M300 790.2H342M300 801.9H342M300 778.4V801.9M270 790.2H300M305 813.6H342M305 825.4H342M305 813.6V825.4M270 819.5H305M270 790.2V819.5M226 804.8H270M226 729.6V804.8M207 767.2H226"/>
<path d="M340.7 837.1H342M340.7 848.9H342M340.7 837.1V848.9M207 843H340.7M207 767.2V843M182 805.1H207M182 860.6H342M182 805.1V860.6M180 832.9H182M180 832.9V884.05M176.2 858.5H180"/>
<path d="M219.2 872.3H342M296 884.1H342M219.2 895.8H342M296 907.6H342M296 884.1V907.6M219.2 872.3V895.8M180 884.05H219.2"/>
<path d="M234.6 919.3H342M249 931H342M340.7 942.8H342M340.7 954.5H342M340.7 942.8V954.5M249 948.65H340.7M249 931V948.65M234.6 939.8H249M234.6 919.3V939.8M176.2 929.6H234.6M176.2 858.5V929.6M148.3 894H176.2"/>
<path d="M210.7 966.3H342M295 978H342M295 989.7H342M295 978V989.7M260 983.9H295M264 1001.5H342M295 1013.2H342M264 1025H342M295 1036.7H342M295 1013.2V1036.7M264 1001.5V1025M260 1013.2H264M260 983.9V1013.2M210.7 998.6H260M210.7 966.3V998.6M148.3 982.4H210.7M148.3 894V982.4M134.3 938.2H148.3"/>
<path d="M340.7 1048.4H342M340.7 1060.2H342M340.7 1048.4V1060.2M295 1054.3H340.7M295 1071.9H342M295 1054.3V1071.9M249 1063.1H295M271.7 1083.7H342M295 1095.4H342M295 1107.1H342M295 1095.4V1107.1M271.7 1101.3H295M271.7 1083.7V1101.3M249 1092.5H271.7M249 1063.1V1092.5M210.7 1078H249"/>
<path d="M249 1118.9H342M295 1130.6H342M295 1142.4H342M295 1130.6V1142.4M249 1136.5H295M249 1118.9V1136.5M210.7 1127.7H249M210.7 1078V1127.7M189.3 1102.8H210.7M189.3 1102.8V1186.7M134.3 1144.7H189.3M134.3 938.2V1144.7M62.7 1041.5H134.3"/>
<path d="M206 1154.1H342M295 1165.8H342M241 1177.6H342M295 1189.3H342M295 1165.8V1189.3M241 1177.6V1260.9M206 1219.3H241M206 1154.1V1219.3M189.3 1186.7H206"/>
<path d="M340.7 1201.1H342M340.7 1212.8H342M340.7 1201.1V1212.8M295 1206.95H340.7M295 1224.5H342M295 1206.95V1224.5M269 1215.7H295M295 1236.3H342M340.7 1248H342M340.7 1259.8H342M340.7 1248V1259.8M295 1253.9H340.7M295 1236.3V1253.9M269 1245.1H295M269 1215.7V1245.1M245 1230.3H269M245 1230.3V1291.1M241 1260.9H245"/>
<path d="M295 1271.5H342M295 1283.2H342M295 1271.5V1283.2M271.7 1277.35H295M280 1295H342M296 1306.7H342M340.7 1318.5H342M340.7 1330.2H342M340.7 1318.5V1330.2M296 1324.35H340.7M296 1306.7V1324.35M280 1315.5H296M280 1295V1315.5M271.7 1305H280M271.7 1277.35V1305M245 1291.1H271.7"/>
<path d="M62.7 1341.9H342M62.7 1041.5V1341.9M27.7 1191.7H62.7M250.4 1353.7H342M296.2 1365.4H342M296.2 1377.2H342M296.2 1365.4V1377.2M250.4 1371.3H296.2M250.4 1353.7V1371.3M27.7 1362.5H250.4M27.7 1191.7V1362.5M7.3 1277.1H27.7"/>
</g>
<g id="axisB">
<path d="M27.7 1396.7H342.3M65.8 1392.7V1400M121.1 1392.7V1400M176.4 1392.7V1400M231.7 1392.7V1400M287 1392.7V1400M342.3 1392.7V1400" fill="none" stroke="#333" stroke-width="1.1"/>
<text class="ax" x="65.8" y="1410.5">0.25</text>
<text class="ax" x="121.1" y="1410.5">0.20</text>
<text class="ax" x="176.4" y="1410.5">0.15</text>
<text class="ax" x="231.7" y="1410.5">0.10</text>
<text class="ax" x="287" y="1410.5">0.05</text>
<text class="ax" x="342.3" y="1410.5">0.00</text>
</g>
<g id="leaves">
<g id="leaf-v239"><use href="#dn" x="348.3" y="625.8"/><text class="lbl" x="353" y="629">v239-6/05</text></g>
<g id="leaf-VVyb194"><use href="#up" x="348.3" y="637.5"/><text class="lbl" x="353" y="640.7">VVyb194-03/06</text></g>
<g id="leaf-VVyb95"><use href="#up" x="348.3" y="649.3"/><text class="lbl" x="353" y="652.5">VVyb95-08/05</text></g>
<g id="leaf-VVyb144"><use href="#up" x="348.3" y="661"/><text class="lbl" x="353" y="664.2">VVyb144-07/06</text></g>
<g id="leaf-VVyb132"><use href="#up" x="348.3" y="672.8"/><text class="lbl" x="353" y="676">VVyb132-03/06</text></g>
<g id="leaf-v240"><use href="#dn" x="348.3" y="684.5"/><text class="lbl" x="353" y="687.7">v240-7/05</text></g>
<g id="leaf-VVyb115"><use href="#up" x="348.3" y="696.2"/><text class="lbl" x="353" y="699.4">VVyb115-08/05</text></g>
<g id="leaf-VVyb109"><use href="#up" x="348.3" y="708"/><text class="lbl" x="353" y="711.2">VVyb109-08/05</text></g>
<g id="leaf-VVyb127"><use href="#up" x="348.3" y="719.7"/><text class="lbl" x="353" y="722.9">VVyb127-03/06</text></g>
<g id="leaf-VVyb128"><use href="#up" x="348.3" y="731.5"/><text class="lbl" x="353" y="734.7">VVyb128-03/06</text></g>
<g id="leaf-v245"><use href="#dn" x="348.3" y="743.2"/><text class="lbl" x="353" y="746.4">v245-3/05</text></g>
<g id="leaf-VVyb101"><use href="#up" x="348.3" y="754.9"/><text class="lbl" x="353" y="758.1">VVyb101-08/05</text></g>
<g id="leaf-VVyb129"><use href="#up" x="348.3" y="766.7"/><text class="lbl" x="353" y="769.9">VVyb129-03/06</text></g>
<g id="leaf-VVyb141"><use href="#up" x="348.3" y="778.4"/><text class="lbl" x="353" y="781.6">VVyb141-07/06</text></g>
<g id="leaf-VVyb137"><use href="#up" x="348.3" y="790.2"/><text class="lbl" x="353" y="793.4">VVyb137-07/06</text></g>
<g id="leaf-VVyb146"><use href="#up" x="348.3" y="801.9"/><text class="lbl" x="353" y="805.1">VVyb146-07/06</text></g>
<g id="leaf-VVyb131"><use href="#up" x="348.3" y="813.6"/><text class="lbl" x="353" y="816.8">VVyb131-03/06</text></g>
<g id="leaf-VVyb140"><use href="#up" x="348.3" y="825.4"/><text class="lbl" x="353" y="828.6">VVyb140-07/06</text></g>
<g id="leaf-v218"><use href="#dn" x="348.3" y="837.1"/><text class="lbl" x="353" y="840.3">v218-1/98</text></g>
<g id="leaf-v219"><use href="#dn" x="348.3" y="848.9"/><text class="lbl" x="353" y="852.1">v219-1/99</text></g>
<g id="leaf-VVyb156"><use href="#up" x="348.3" y="860.6"/><text class="lbl" x="353" y="863.8">VVyb156-07/06</text></g>
<g id="leaf-v220"><use href="#dn" x="348.3" y="872.3"/><text class="lbl" x="353" y="875.5">v220-5/00</text></g>
<g id="leaf-v233"><use href="#dn" x="348.3" y="884.1"/><text class="lbl" x="353" y="887.3">v233-1/06</text></g>
<g id="leaf-v234"><use href="#dn" x="348.3" y="895.8"/><text class="lbl" x="353" y="899">v234-2/06</text></g>
<g id="leaf-v236"><use href="#dn" x="348.3" y="907.6"/><text class="lbl" x="353" y="910.8">v236-1/05</text></g>
<g id="leaf-v229"><use href="#dn" x="348.3" y="919.3"/><text class="lbl" x="353" y="922.5">v229-105</text></g>
<g id="leaf-v253"><use href="#dn" x="348.3" y="931"/><text class="lbl" x="353" y="934.2">v253-9/04</text></g>
<g id="leaf-v232"><use href="#dn" x="348.3" y="942.8"/><text class="lbl" x="353" y="946">v232-8/03e</text></g>
<g id="leaf-v254"><use href="#dn" x="348.3" y="954.5"/><text class="lbl" x="353" y="957.7">v254-8/03</text></g>
<g id="leaf-VVyb71"><use href="#up" x="348.3" y="966.3"/><text class="lbl" x="353" y="969.5">VVyb71-10/05</text></g>
<g id="leaf-VVyb63"><use href="#up" x="348.3" y="978"/><text class="lbl" x="353" y="981.2">VVyb63-10/05</text></g>
<g id="leaf-VVyb72"><use href="#up" x="348.3" y="989.7"/><text class="lbl" x="353" y="992.9">VVyb72-10/05</text></g>
<g id="leaf-VVyb73"><use href="#up" x="348.3" y="1001.5"/><text class="lbl" x="353" y="1004.7">VVyb73-10/05</text></g>
<g id="leaf-VVyb66"><use href="#up" x="348.3" y="1013.2"/><text class="lbl" x="353" y="1016.4">VVyb66-10/05</text></g>
<g id="leaf-v241"><use href="#dn" x="348.3" y="1025"/><text class="lbl" x="353" y="1028.2">v241-8/05</text></g>
<g id="leaf-v242"><use href="#dn" x="348.3" y="1036.7"/><text class="lbl" x="353" y="1039.9">v242-9/05</text></g>
<g id="leaf-v213"><use href="#dn" x="348.3" y="1048.4"/><text class="lbl" x="353" y="1051.6">v213-145/96</text></g>
<g id="leaf-v217"><use href="#dn" x="348.3" y="1060.2"/><text class="lbl" x="353" y="1063.4">v217-1033/97</text></g>
<g id="leaf-v214"><use href="#dn" x="348.3" y="1071.9"/><text class="lbl" x="353" y="1075.1">v214-58/97</text></g>
<g id="leaf-v216"><use href="#dn" x="348.3" y="1083.7"/><text class="lbl" x="353" y="1086.9">v216-162/97</text></g>
<g id="leaf-v215"><use href="#dn" x="348.3" y="1095.4"/><text class="lbl" x="353" y="1098.6">v215-11028/97</text></g>
<g id="leaf-v222"><use href="#dn" x="348.3" y="1107.1"/><text class="lbl" x="353" y="1110.3">v222-1/01</text></g>
<g id="leaf-v231"><use href="#dn" x="348.3" y="1118.9"/><text class="lbl" x="353" y="1122.1">v231-12</text></g>
<g id="leaf-v221"><use href="#dn" x="348.3" y="1130.6"/><text class="lbl" x="353" y="1133.8">v221-8/00</text></g>
<g id="leaf-v223"><use href="#dn" x="348.3" y="1142.4"/><text class="lbl" x="353" y="1145.6">v223-10/02</text></g>
<g id="leaf-VVyb108"><use href="#up" x="348.3" y="1154.1"/><text class="lbl" x="353" y="1157.3">VVyb108-08/05</text></g>
<g id="leaf-v243"><use href="#dn" x="348.3" y="1165.8"/><text class="lbl" x="353" y="1169">v243-10/05</text></g>
<g id="leaf-v244"><use href="#dn" x="348.3" y="1177.6"/><text class="lbl" x="353" y="1180.8">v244-11/05</text></g>
<g id="leaf-VVyb88"><use href="#up" x="348.3" y="1189.3"/><text class="lbl" x="353" y="1192.5">VVyb88-07/05</text></g>
<g id="leaf-VVyb1"><use href="#up" x="348.3" y="1201.1"/><text class="lbl" x="353" y="1204.3">VVyb1-9/04</text></g>
<g id="leaf-VVyb117"><use href="#up" x="348.3" y="1212.8"/><text class="lbl" x="353" y="1216">VVyb117-08/05</text></g>
<g id="leaf-VVyb116"><use href="#up" x="348.3" y="1224.5"/><text class="lbl" x="353" y="1227.7">VVyb116-08/05</text></g>
<g id="leaf-VVyb89"><use href="#up" x="348.3" y="1236.3"/><text class="lbl" x="353" y="1239.5">VVyb89-07/05</text></g>
<g id="leaf-v237"><use href="#dn" x="348.3" y="1248"/><text class="lbl" x="353" y="1251.2">v237-2/05</text></g>
<g id="leaf-v238"><use href="#dn" x="348.3" y="1259.8"/><text class="lbl" x="353" y="1263">v238-5/05</text></g>
<g id="leaf-VVyb87"><use href="#up" x="348.3" y="1271.5"/><text class="lbl" x="353" y="1274.7">VVyb87-07/05</text></g>
<g id="leaf-VVyb93"><use href="#up" x="348.3" y="1283.2"/><text class="lbl" x="353" y="1286.4">VVyb93-08/05</text></g>
<g id="leaf-VVyb118"><use href="#up" x="348.3" y="1295"/><text class="lbl" x="353" y="1298.2">VVyb118-08/05</text></g>
<g id="leaf-v251"><use href="#dn" x="348.3" y="1306.7"/><text class="lbl" x="353" y="1309.9">v251-6/04</text></g>
<g id="leaf-VVyb91"><use href="#up" x="348.3" y="1318.5"/><text class="lbl" x="353" y="1321.7">VVyb91-08/05</text></g>
<g id="leaf-VVyb114"><use href="#up" x="348.3" y="1330.2"/><text class="lbl" x="353" y="1333.4">VVyb114-08/05</text></g>
<g id="leaf-v248"><use href="#dn" x="348.3" y="1341.9"/><text class="lbl" x="353" y="1345.1">v248-3/04</text></g>
<g id="leaf-v250"><use href="#dn" x="348.3" y="1353.7"/><text class="lbl" x="353" y="1356.9">v250-5/04</text></g>
<g id="leaf-v247"><use href="#dn" x="348.3" y="1365.4"/><text class="lbl" x="353" y="1368.6">v247-2/04</text></g>
<g id="leaf-v249"><use href="#dn" x="348.3" y="1377.2"/><text class="lbl" x="353" y="1380.4">v249-4/04</text></g>
</g>
<g id="annotations">
<path class="arr" marker-end="url(#ah)" d="M441 625.8H421"/>
<path class="arr" marker-end="url(#ah)" d="M441 637.5H421"/>
<path class="arr" marker-end="url(#ah)" d="M441 649.3H421"/>
<path class="arr" marker-end="url(#ah)" d="M441 672.8H421"/>
<path class="arr" marker-end="url(#ah)" d="M441 684.5H421"/>
<path class="arr" marker-end="url(#ah)" d="M441 942.8H421"/>
<path class="arr" marker-end="url(#ah)" d="M441 954.5H421"/>
<path class="arr" marker-end="url(#ah)" d="M441 1236.3H421"/>
<path class="arr" marker-end="url(#ah)" d="M441 1248H421"/>
<path class="arr" marker-end="url(#ah)" d="M441 1259.8H421"/>
<text class="ann" x="444" y="629">Rambam Hospital (2005 Aug)</text>
<text class="ann" x="444" y="640.7">Fish – Western Galilee (2006 Mar)</text>
<text class="ann" x="444" y="652.5">Fish – Western Galilee (2005 Aug)</text>
<text class="ann" x="444" y="676">Fish – Western Galilee (2006 Mar)</text>
<text class="ann" x="444" y="687.7">Western Galilee Hospital (2005 Sept)</text>
<text class="ann" x="444" y="946" xml:space="preserve">Fish –  (2003 Dec)</text>
<text class="ann" x="444" y="957.7">Barzilai Hospital (2003 Dec)</text>
<text class="ann" x="444" y="1239.5">Fish – Western Galilee (2005 Jul)</text>
<text class="ann" x="444" y="1251.2">Western Galilee Hospital (2005 Jun)</text>
<text class="ann" x="444" y="1263">Western Galilee Hospital (2005 Jun)</text>
</g>
</svg>
